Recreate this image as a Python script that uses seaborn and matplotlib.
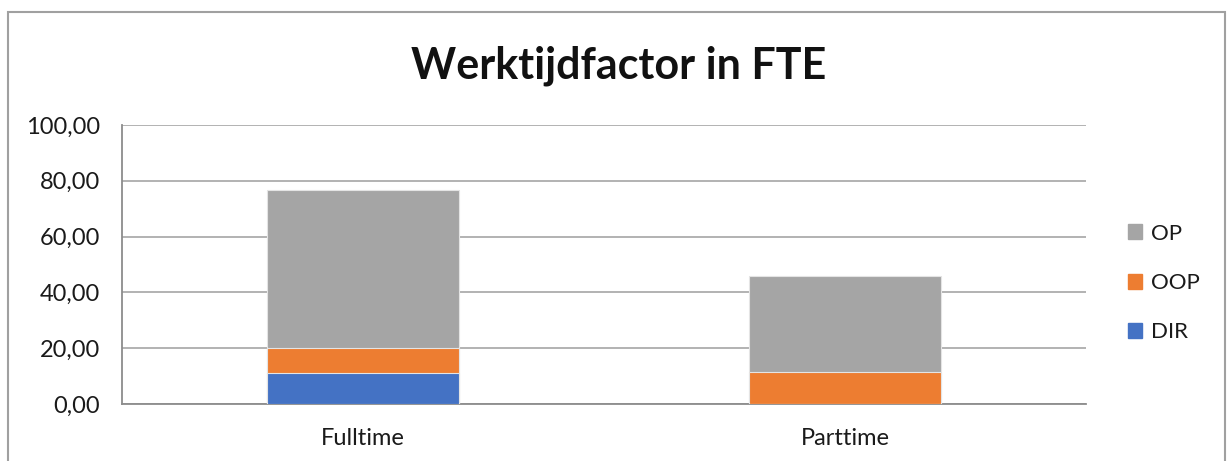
import matplotlib
matplotlib.use("Agg")
import matplotlib.pyplot as plt
import matplotlib.patches as mpatches
from matplotlib.ticker import FuncFormatter, FixedLocator
import numpy as np
import pandas as pd
import seaborn as sns

# data
categories = ["Fulltime", "Parttime"]
dir_values = [11.2, 0.0]
oop_values = [9.0, 11.3]
op_values = [56.4, 34.5]
series_names = ["DIR", "OOP", "OP"]
colors = {"DIR": "#4472C4", "OOP": "#ED7D31", "OP": "#A5A5A5"}

sns.set_style("white")
plt.rcParams["font.family"] = ["Lato", "DejaVu Sans"]

df = pd.DataFrame({"cat": categories, "DIR": dir_values, "OOP": oop_values, "OP": op_values})
df["OOP_cum"] = df["DIR"] + df["OOP"]
df["OP_cum"] = df["OOP_cum"] + df["OP"]

fig = plt.figure(figsize=(12.27, 4.61), dpi=100)
ax = fig.add_axes([0.0994, 0.1236, 0.7857, 0.6053])

# stacked: draw tallest cumulative first
for name, col in [("OP", "OP_cum"), ("OOP", "OOP_cum"), ("DIR", "DIR")]:
    sns.barplot(data=df, x="cat", y=col, color=colors[name], width=0.4, saturation=1,
                edgecolor="#E4E4E4", linewidth=0.8, ax=ax, zorder=3)

ax.set_ylim(0, 100)
ax.set_xlim(-0.5, 1.5)
ax.set_yticks(np.arange(0, 101, 20))
ax.yaxis.set_major_formatter(FuncFormatter(lambda v, p: f"{v:.2f}".replace(".", ",")))
ax.grid(axis="y", color="#A6A6A6", linewidth=1.2, zorder=0)
ax.set_axisbelow(True)
ax.set_xlabel("")
ax.set_ylabel("")

for side in ["top", "right"]:
    ax.spines[side].set_visible(False)
for side in ["left", "bottom"]:
    ax.spines[side].set_color("#8C8C8C")
    ax.spines[side].set_linewidth(1.3)

ax.tick_params(axis="y", length=5, width=1.2, color="#8C8C8C", pad=11, labelsize=17, labelcolor="#1A1A1A")
ax.tick_params(axis="x", which="major", length=0, pad=17, labelsize=17, labelcolor="#1A1A1A")
ax.xaxis.set_minor_locator(FixedLocator([-0.5, 0.5, 1.5]))
ax.tick_params(axis="x", which="minor", length=6, width=1.2, color="#8C8C8C")

handles = [mpatches.Patch(color=colors[n], label=n) for n in ["OP", "OOP", "DIR"]]
leg = fig.legend(handles=handles, loc="center left", bbox_to_anchor=(0.919, 0.386),
                 frameon=False, fontsize=16, handlelength=0.65, handleheight=0.65,
                 handletextpad=0.4, labelspacing=1.32, borderpad=0, borderaxespad=0)
for t in leg.get_texts():
    t.set_color("#1A1A1A")

fig.text(0.504, 0.857, "Werktijdfactor in FTE", ha="center", va="center",
         fontsize=31, fontweight="bold", color="#111111")

# chart frame like the source image
fig.patches.append(mpatches.Rectangle((8 / 1227, -0.05), (1225 - 8) / 1227, 1 - 12 / 461 + 0.05,
                                      transform=fig.transFigure, fill=False,
                                      edgecolor="#A0A0A0", linewidth=1.5))

fig.savefig("out.png", dpi=100)
